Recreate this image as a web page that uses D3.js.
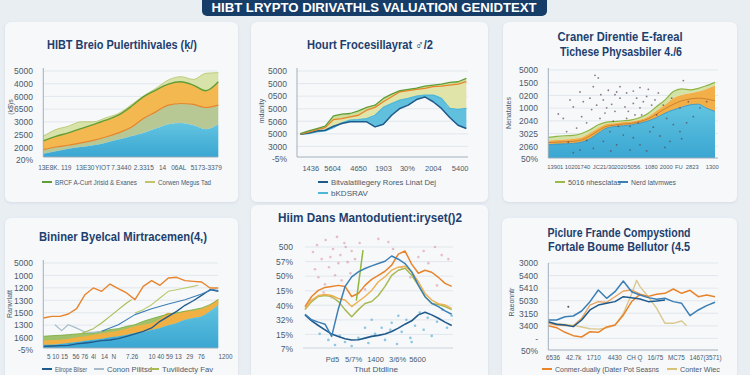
<!DOCTYPE html>
<html><head><meta charset="utf-8">
<script src="https://cdn.jsdelivr.net/npm/d3@7"></script>
<style>html,body{margin:0;padding:0;background:#e9eef3;}svg{display:block;font-family:"Liberation Sans",Arial,sans-serif;}</style>
</head><body><script>
// ---------------- DATA ----------------
const bannerTitle = "HIBT LRYPTO DIRIVATHLS VALUATION GENIDTEXT";

// Panel 1 (top-left) stacked areas, cumulative boundaries
const p1Title = ["HIBT Breio Pulertihivales (ķ/)"];
const p1YTicks = ["5000","4000","6000","6500","3000","2500","2000","20%"];
const p1XTicks = ["13E8K.","119","13E30","YIOT","7.3440","2.3315","14","06AL","5173-3379"];
const p1XTickAt = [0.4,1.8,3.3,4.7,6.2,8.0,9.5,10.8,13.0];
const p1Teal  = [3.8,6.5,9.6,11.5,13.5,16.5,20,23.8,27.7,32.7,37.7,39,36.5,32,37.7];
const p1Olive = [8.5,11.5,13.5,16.2,19.2,23,27.7,33.8,44.2,51.9,59.6,61.5,60.4,56.9,59.6];
const p1Amber = [18.5,23.8,27.7,32.7,37.3,42.3,48.1,57.7,69.2,76.9,83.8,86.5,82.7,76.2,86.5];
const p1Top   = [23.8,31.5,35.4,40.4,40.4,45,50,59.6,70,78.8,88.5,92.3,89.2,96.2,96.9];
const p1Legend = ["BRCF A-Curt Jrisid & Exanes","Corwen Megus Tad"];

// Panel 2 (top-middle)
const p2Title = ["Hourt Frocesillayrat ♂/2"];
const p2YTicks = ["5000","5000","0500","5000","5060","5000","3000","-5%"];
const p2XTicks = ["1436","5604","4650","1903","30%","2004","5400"];
const p2XTickAt = [1.2,3.84,6.96,9.96,12.84,15.96,19.2];
const p2Green  = [26.9,30,32.7,35.4,47.3,49.2,50,53,57,59.6,67.3,72.3,76.2,77.7,79.2,81.5,82.7,83.8,85.8,86.5,90.4];
const p2Orange = [26.2,28.5,31.5,33.8,43,44.2,46.2,48,53.8,57,63.5,69.2,75,76.2,77.7,78.8,80.8,81.5,82.7,83.8,86.5];
const p2Light  = [26.2,26.9,28.8,30,33.8,39.2,42.3,43,44.2,48,57,61.5,65.4,67.3,70,71.2,71.2,67.3,55.8,54.6,55.8];
const p2Navy   = [26.2,27.7,30,30.8,35.4,38.5,40.4,40.4,40.4,34.6,37.7,48,55.8,59.6,66,69,63.5,55.8,45.4,36.5,32.7];
const p2Legend = ["Bitvalatiliegery Rores Linat Dej","bKDSRAV"];

// Panel 3 (top-right)
const p3Title = ["Craner Direntie E-fareal","Tichese Physasbiler 4./6"];
const p3YTicks = ["5000","1500","0200","1000","2040","3025","2060","50%"];
const p3XTicks = ["1390","1 1020","1740","JC","21/30","2020","5056.","1080","2000","FU","2823","1300"];
const p3XTickAt = [0.6,2.4,4.2,5.7,7.0,8.6,10.3,12.3,14.1,15.6,17.2,19.6];
const p3Teal   = [15.1,15.8,16.2,16.6,18.1,21.9,28.3,34,35.8,36.6,37.7,39.6,42.3,46,50.9,54.7,57.7,60.4,61.1,56.6,52.8];
const p3Mid    = [17.5,18,18.5,19,20.5,25,31,36,37.5,38.5,39.5,41.5,44.5,50,56,61,65,67,68,67,65];
const p3Orange = [19.6,20.4,21.1,21.9,23.4,28.3,34,38.5,39.6,40.8,41.5,43.4,47.2,53.6,60.4,67.9,71.7,73.6,75.5,78.5,82.3];
const p3Top    = [23.4,24.5,25.3,25.7,27.9,32.1,37.7,40.8,41.5,42.3,43.4,46,50.9,58.5,66,75.5,78.5,77.4,79.2,82.3,86];
const p3Dots = [[5.6,94],[6,91],[5.4,81],[3.8,75],[8.2,75],[8.6,81],[12,78],[10.2,76],[16.2,88],[1.2,50],[3,58],[4.2,64],[5,68],[5.8,60],[6.6,66],[7,57],[7.6,61],[8,53],[8.6,68],[9.2,58],[9.6,53],[10.2,62],[10.6,68],[11,57],[11.4,64],[11.8,70],[12.4,60],[12.8,66],[11.2,49],[9.4,45],[7.8,42],[6.2,45],[4.6,40],[3.4,34],[2.2,30],[13,49],[14.2,45],[15,38],[15.8,30],[16.6,40],[17.4,47],[18.2,57],[19,64],[7.4,30],[9,26],[10.2,23],[11,15],[12.2,30],[13.4,25],[14.6,19],[8.2,15],[6.6,19],[5.4,11],[9.8,9],[11.8,8],[3.8,9],[3,6],[4.6,20],[8.4,36],[9.8,36],[10.4,49],[6.8,51],[5.2,55],[4,47],[15.8,57],[16.8,64],[13.8,60],[14.8,68],[8,72],[7.2,77],[9.4,74],[11,80],[13.2,74],[2.6,66],[1.8,45],[6.3,72],[10.8,40],[12.6,35],[14,12],[16,22],[7.5,8],[2.4,18]];
const p3Legend = ["5016 nhesclatas","Nerd latvmwes"];

// Panel 4 (bottom-left)
const p4Title = ["Bininer Byelcal Mirtracemen(4,)"];
const p4YTicks = ["5000","1000","1200","1300","1500","1300","1600","-5%"];
const p4XTicks = ["5 10 15","56 76","4l","14","N","7.26","10 40","59 13","29","76","1200"];
const p4XTickAt = [1.64,4.4,5.96,7.28,8.4,10.6,13.5,15.6,17.5,18.9,21.8];
const p4Teal   = [3.9,3.9,4.7,5.8,7,8.5,9.7,10.9,12.4,13.6,15.5,17.4,18.6,21.3,23.3,26.4,29.1,32.9,34.9,36.8,42.6,50.4];
const p4Amber  = [8.5,9.3,9.7,10.9,12.4,13.6,15.5,17,18.6,20.2,22.5,25.2,27.1,29.1,34.1,41,40,43.4,43.4,45.7,50.4,57.4];
const p4Green  = [13.6,14.3,14.7,15.5,16.3,17,17.4,19.4,21.3,22.5,25.2,27.1,31,34.1,36.8,39.5,41,42.6,44.6,46.5,50.4,56.2];
const p4Navy   = [1.9,2.3,2.7,3.1,4.7,5.8,7,8.5,9.3,10.9,13.6,16.3,19.4,23.3,31,36.8,42.6,49.6,55,61.2,67.8,66];
const p4Orange = [34.9,36.8,36.8,39.5,45.7,62,69.8,65.9,74.4,69,64,56.2,71.7,78.3,72.9,81.4,82.2,78.3,77.5,76.7,69.8,69.8];
const p4Olive  = [[4.2,15.5],[5,18.6],[6,22.5],[7,29.1],[8,36.8],[9,44.6],[10,52.3],[10.6,56.2]];
const p4Lime   = [[11,40.7],[12,44.6],[13,50.4],[14,58.1],[15,65.9],[16,67.8],[17,69.8],[18,71.7],[18.6,72.9]];
const p4Gray   = [[1.4,27.1],[2.2,20.2],[3,27.1],[3.8,24],[5,18.6],[6,18.2],[7,19.5]];
const p4Steel  = [[7,19.4],[9,27],[11,38.8],[13,45.7],[15,51.2],[17,56.2],[19,62.8],[20.3,68],[21,66.7]];
const p4Legend = ["Elirope Bilser","Conon Pilitsd","Tuvilidecty Fav"];

// Panel 5 (bottom-middle)
const p5Title = ["Hiim Dans Mantodutient:iryset()2"];
const p5YTicks = ["500","57%","50%","15%","40%","32%","15%","7%"];
const p5XTicks = ["Pd5","5/7%","1400","3/6%","5600"];
const p5XTickAt = [4.05,7.2,10.5,13.8,16.8];
const p5Orange = [41,51,57,60,61,62,61,51,54,62,68,72,76,82,93,96,83,74,77,75,70,64,61];
const p5Amber  = [39,47.5,52,53,52,49,47.5,41,46,51,57,65.6,70.5,77,80,81,75.4,65.6,54,47.5,44,42.6,39];
const p5Olive  = [38,46,51,52,51,46,38,31,38,44,46,52,61,72,77,79,72,62,51,44,43,41,38];
const p5Steel  = [33.4,27.9,25.6,23.6,11.5,38.7,60.7,70.5,75.4,78.7,81.3,83.6,85.9,91.1,87.9,83.6,75.4,62.3,50.8,44.3,41,36.7,33.4];
const p5Navy   = [32.8,26.9,22.3,18,13.8,11.5,9.2,7.9,8.2,9.8,11.5,12.5,13.8,16.4,19.7,23.6,26.9,32.8,35.4,32.8,29.5,25.6,22.3];
const p5Spike  = [[7.7,47],[8.7,97]];
const p5Pink = [[1.2,95],[1.8,102],[2.5,88],[3.1,107],[3.6,80],[4.2,98],[4.8,110],[5.3,92],[5.9,104],[6.4,85],[7.0,96],[2.0,70],[3.0,63],[4.5,72],[5.5,67],[6.8,74],[1.5,78],[3.8,90],[5.0,84],[6.1,100],[7.5,88],[12.5,105],[13.2,98],[17.0,90],[17.8,96],[18.5,84],[19.5,100],[20.5,92],[21.5,88],[11.0,108],[14.5,80],[9.0,58],[2.8,55],[4.0,50],[8.2,104],[15.8,70],[19.8,62]];
const p5Blue = [[3.5,8],[4.5,3],[5.2,12],[6.0,6],[7.0,2],[8.0,10],[9.5,5],[10.5,14],[11.5,20],[12.0,8],[13.0,25],[13.8,4],[14.5,16],[15.2,28],[15.8,10],[16.5,22],[17.2,35],[17.8,18],[18.4,30],[19.0,12],[19.8,26],[20.6,38],[21.3,20],[22,32],[10,28],[12.8,18],[16,6],[14,32],[2.2,14],[9,20]];
const p5XTitle = "Thut Dtdline";

// Panel 6 (bottom-right)
const p6Title = ["Piclure Frande Compystiond","Fortale Boume Bellutor (4.5"];
const p6YTicks = ["3000","5400","5410","5030","3150","3400","-","50%"];
const p6XTicks = ["6536","42.7k","1710","4430","CH Q","16/75","MC75","1467(3571)"];
const p6XTickAt = [0.5,3.0,5.4,7.9,10.3,12.8,15.3,18.8];
const p6Steel  = [35.3,35.3,39.2,40,45.9,56.9,70.6,60.8,68.6,81.2,68.6,64.7,61.6,59.6,60.8,56.9,54.9,40.4,47.1,52.2,56.1];
const p6Navy   = [33.3,30.2,29.4,27.5,35.3,47.1,52.9,54.9,56.9,62.7,61.6,60,56.9,57.6,58.8];
const p6Orange = [28.6,26.3,20.8,16.9,15.3,21.6,20.8,27.1,29.4,41,57,65.5,63.1,65.5,66.7,71.8,66.7,70.2,62.7,64.7,62.7];
const p6Peach  = [31.4,29.4,28.6,28.6,37.3,52.9,56.9,56.1,62.7,69.4,70.6,66];
const p6Tan    = [[0,32],[1,31],[2,30],[3,29],[4,27],[5,25],[6,24.5],[7,26],[8,29],[9,43],[10,66],[10.6,82],[11,74.5],[12,62.7],[13,49],[14,31.4],[15,31.4],[16,34.1],[16.6,28.6]];
const p6Stray  = [[2.4,51]];
const p6Legend = ["Conmer-dually (Dater Pot Seasns","Conter Wiec"];

// ---------------- DRAW ----------------
const svg = d3.select("body").append("svg").attr("width",750).attr("height",375);
const defs = svg.append("defs");
const f = defs.append("filter").attr("id","sh").attr("x","-10%").attr("y","-10%").attr("width","120%").attr("height","120%");
f.append("feDropShadow").attr("dx",0).attr("dy",1).attr("stdDeviation",1.6).attr("flood-color","#8a9bb0").attr("flood-opacity",0.22);
function grad(id,c1,c2){const g=defs.append("linearGradient").attr("id",id).attr("x1",0).attr("y1",0).attr("x2",0).attr("y2",1);
  g.append("stop").attr("offset","0%").attr("stop-color",c1);g.append("stop").attr("offset","100%").attr("stop-color",c2);}
grad("teal","#62c4e0","#3aa6d2");

const C = {navy:"#1f5a8c",steel:"#3c7fb5",light:"#4fb7d8",orange:"#e8842c",green:"#5f9e35",olive:"#a9ba52",lime:"#b9c96a",tan:"#d9c98e",gray:"#a7bccb",label:"#4a5b6d",title:"#1e3f6e"};

// banner
svg.append("rect").attr("x",202).attr("y",-10).attr("width",345).attr("height",26).attr("rx",5).attr("fill","#163d68");
svg.append("text").attr("x",374).attr("y",11.5).attr("text-anchor","middle").attr("font-size",12.5).attr("font-weight","bold")
  .attr("fill","#ffffff").attr("textLength",325).attr("lengthAdjust","spacingAndGlyphs").text(bannerTitle);

function card(x,y,w,h){svg.append("rect").attr("x",x).attr("y",y).attr("width",w).attr("height",h).attr("rx",6).attr("fill","#f6f8fa").attr("filter","url(#sh)");}
function txt(t,x,y,o){const e=svg.append("text").attr("x",x).attr("y",y).text(t)
  .attr("font-size",o.size||8).attr("fill",o.fill||C.label).attr("text-anchor",o.anchor||"start");
  if(o.bold)e.attr("font-weight","bold"); if(o.len)e.attr("textLength",o.len).attr("lengthAdjust","spacingAndGlyphs");
  if(o.rot)e.attr("transform",`rotate(-90,${x},${y})`); return e;}

function panel(c){
  const x=d3.scaleLinear().domain(c.xd).range([c.l,c.r]);
  const y=d3.scaleLinear().domain([0,100]).range([c.b,c.t]);
  const yl=d3.scalePoint().domain(d3.range(c.yTicks.length)).range([c.yTop,c.yBot]);
  const grid=svg.append("g");
  d3.range(c.yTicks.length-1).forEach(i=>{
    if(Math.abs(yl(i)-c.b)<3) return;
    grid.append("line").attr("x1",c.l).attr("x2",c.gr).attr("y1",yl(i)).attr("y2",yl(i)).attr("stroke","#dde3ea").attr("stroke-width",0.8);});
  const ay=svg.append("g").attr("transform",`translate(${c.ylx},0)`)
    .call(d3.axisLeft(yl).tickSize(0).tickPadding(0).tickFormat(i=>c.yTicks[i]));
  ay.select(".domain").remove();
  ay.selectAll("text").attr("font-size",8.5).attr("fill",C.label).attr("font-family","Liberation Sans, Arial, sans-serif");
  const ax=svg.append("g").attr("transform",`translate(0,${c.xly})`)
    .call(d3.axisBottom(x).tickValues(c.xAt).tickSize(0).tickPadding(0).tickFormat((d,i)=>c.xTicks[i]));
  ax.select(".domain").remove();
  ax.selectAll("text").attr("font-size",c.xfs||7.5).attr("fill",C.label).attr("font-family","Liberation Sans, Arial, sans-serif");
  const g=svg.append("g");
  return {x,y,g,c};
}
function axesLines(P){const c=P.c;
  svg.append("line").attr("x1",c.l).attr("x2",c.l).attr("y1",c.t-2).attr("y2",c.b).attr("stroke","#9aa7b4").attr("stroke-width",0.9);
  svg.append("line").attr("x1",c.l).attr("x2",c.gr).attr("y1",c.b).attr("y2",c.b).attr("stroke","#9aa7b4").attr("stroke-width",0.9);}
function areaBetween(P,lo,hi,fill,op,curve){
  const a=d3.area().x((d,i)=>P.x(i)).y0((d,i)=>P.y(lo?lo[i]:0)).y1(d=>P.y(d)).curve(curve||d3.curveMonotoneX);
  P.g.append("path").attr("d",a(hi)).attr("fill",fill).attr("opacity",op==null?1:op);}
function lineArr(P,arr,col,w,curve){
  const l=d3.line().x((d,i)=>P.x(i)).y(d=>P.y(d)).curve(curve||d3.curveLinear);
  P.g.append("path").attr("d",l(arr)).attr("fill","none").attr("stroke",col).attr("stroke-width",w).attr("stroke-linejoin","round");}
function linePairs(P,arr,col,w){
  const l=d3.line().x(d=>P.x(d[0])).y(d=>P.y(d[1]));
  P.g.append("path").attr("d",l(arr)).attr("fill","none").attr("stroke",col).attr("stroke-width",w).attr("stroke-linejoin","round");}
function dots(P,arr,col,r){P.g.selectAll(null).data(arr).enter().append("circle")
  .attr("cx",d=>P.x(d[0])).attr("cy",d=>P.y(d[1])).attr("r",r).attr("fill",col);}
function legend(items,size){items.forEach(it=>{
  svg.append("line").attr("x1",it.x).attr("x2",it.x+10).attr("y1",it.y).attr("y2",it.y).attr("stroke",it.col).attr("stroke-width",2);
  txt(it.t,it.x+13,it.y+2.5,{size:size||7.5,len:it.len});});}

// cards
card(5,22,233,180); card(251,22,237,180); card(503,22,234,180);
card(5,218,233,170); card(251,205,237,180); card(502,218,235,170);

// ---- Panel 1 ----
txt(p1Title[0],122,49,{size:13,bold:true,fill:C.title,anchor:"middle",len:150});
const P1=panel({xd:[0,14],l:43.3,r:218.3,gr:218,t:70,b:157,yTicks:p1YTicks,yTop:71,yBot:160,ylx:33,xTicks:p1XTicks,xAt:p1XTickAt,xly:165,xfs:6.5});
areaBetween(P1,p1Amber,p1Top,"#d8e3aa");
areaBetween(P1,p1Olive,p1Amber,"#f3b84f");
areaBetween(P1,p1Teal,p1Olive,"#b7c895");
areaBetween(P1,null,p1Teal,"url(#teal)");
lineArr(P1,p1Top,"#b9c772",0.9,d3.curveMonotoneX);
lineArr(P1,p1Amber,C.green,1.4,d3.curveMonotoneX);
lineArr(P1,p1Olive,C.orange,1.2,d3.curveMonotoneX);
axesLines(P1);
txt("(k$)s",13,107,{size:7,anchor:"middle",rot:true});
legend([{x:42,y:182,col:C.green,t:p1Legend[0],len:82},{x:145,y:182,col:"#c2c46a",t:p1Legend[1],len:53}]);

// ---- Panel 2 ----
txt(p2Title[0],370,49,{size:13,bold:true,fill:C.title,anchor:"middle",len:126});
const P2=panel({xd:[-0.4,20.2],l:297,r:468,gr:468,t:70,b:157,yTicks:p2YTicks,yTop:71,yBot:159,ylx:287,xTicks:p2XTicks,xAt:p2XTickAt,xly:166});
areaBetween(P2,p2Light,p2Orange,"#dfe3a4",0.95);
areaBetween(P2,p2Orange,p2Green,"#cbd98c",0.9);
areaBetween(P2,p2Navy,p2Light,"#58bddb",0.95);
lineArr(P2,p2Light,C.light,1.3);
lineArr(P2,p2Navy,C.navy,1.5);
lineArr(P2,p2Orange,C.orange,1.3);
lineArr(P2,p2Green,C.green,1.3);
axesLines(P2);
txt("mdanity",264,111,{size:7,anchor:"middle",rot:true});
legend([{x:318,y:182,col:C.navy,t:p2Legend[0],len:105},{x:318,y:193,col:C.light,t:p2Legend[1],len:37}]);

// ---- Panel 3 ----
txt(p3Title[0],620,41,{size:13,bold:true,fill:C.title,anchor:"middle",len:125});
txt(p3Title[1],621,56,{size:13,bold:true,fill:C.title,anchor:"middle",len:122});
const P3=panel({xd:[0,20],l:548.3,r:715,gr:718,t:70,b:158,yTicks:p3YTicks,yTop:70,yBot:159,ylx:538,xTicks:p3XTicks,xAt:p3XTickAt,xly:165,xfs:5.8});
areaBetween(P3,p3Orange,p3Top,"#d3e2a6");
areaBetween(P3,p3Teal,p3Orange,"#f2ae47");
areaBetween(P3,null,p3Teal,"url(#teal)");
lineArr(P3,p3Top,"#8fb545",1.2,d3.curveMonotoneX);
lineArr(P3,p3Mid,"#c97a2c",0.9,d3.curveMonotoneX);
lineArr(P3,p3Teal,"#2f8fbf",0.8,d3.curveMonotoneX);
dots(P3,p3Dots,"rgba(92,70,86,0.7)",0.9);
axesLines(P3);
txt("Nenatates",511,113,{size:7,anchor:"middle",rot:true});
legend([{x:555,y:182,col:"#9cbb4a",t:p3Legend[0],len:53},{x:618,y:182,col:C.steel,t:p3Legend[1],len:45}]);

// ---- Panel 4 ----
txt(p4Title[0],123,241,{size:13,bold:true,fill:C.title,anchor:"middle",len:168});
const P4=panel({xd:[0,21],l:43.3,r:218.3,gr:218,t:262,b:348,yTicks:p4YTicks,yTop:263,yBot:350,ylx:33,xTicks:p4XTicks,xAt:p4XTickAt,xly:355,xfs:6.3});
areaBetween(P4,p4Teal,p4Green,"#9fc16a");
areaBetween(P4,p4Teal,p4Amber,"#f1b043");
areaBetween(P4,null,p4Teal,"url(#teal)");
lineArr(P4,p4Green,"#7fae45",0.9);
lineArr(P4,p4Navy,C.navy,1.3);
linePairs(P4,p4Gray,C.gray,1.2);
linePairs(P4,p4Steel,C.steel,1.1);
linePairs(P4,p4Olive,C.olive,1.1);
linePairs(P4,p4Lime,C.lime,1.1);
lineArr(P4,p4Orange,C.orange,1.4);
axesLines(P4);
txt("Ranvrlatt",12,304,{size:7,anchor:"middle",rot:true});
legend([{x:42,y:369,col:C.navy,t:p4Legend[0],len:32},{x:94,y:369,col:C.gray,t:p4Legend[1],len:45},{x:149,y:369,col:C.olive,t:p4Legend[2],len:51}],7);

// ---- Panel 5 ----
txt(p5Title[0],370,222,{size:13,bold:true,fill:C.title,anchor:"middle",len:184});
const P5=panel({xd:[0,22],l:305,r:451.7,gr:453,t:247,b:348,yTicks:p5YTicks,yTop:247,yBot:349,ylx:293,xTicks:p5XTicks,xAt:p5XTickAt,xly:357});
dots(P5,p5Pink,"rgba(212,120,140,0.45)",1.3);
dots(P5,p5Blue,"rgba(70,165,210,0.6)",1.3);
lineArr(P5,p5Olive,C.olive,1.5);
lineArr(P5,p5Amber,"#efb04e",1.4);
lineArr(P5,p5Orange,C.orange,1.5);
linePairs(P5,p5Spike,"#8fb83d",1.5);
lineArr(P5,p5Navy,C.navy,1.6);
lineArr(P5,p5Steel,C.steel,1.5);
svg.append("line").attr("x1",303).attr("x2",453).attr("y1",348).attr("y2",348).attr("stroke","#c3ccd5").attr("stroke-width",0.8);
txt(p5XTitle,376,372,{size:7,anchor:"middle",len:44});

// ---- Panel 6 ----
txt(p6Title[0],619,237,{size:13,bold:true,fill:C.title,anchor:"middle",len:143});
txt(p6Title[1],619,251,{size:13,bold:true,fill:C.title,anchor:"middle",len:142});
const P6=panel({xd:[0,20],l:548.3,r:715,gr:718,t:265,b:350,yTicks:p6YTicks,yTop:263,yBot:351,ylx:538,xTicks:p6XTicks,xAt:p6XTickAt,xly:356,xfs:6.3});
linePairs(P6,p6Tan,C.tan,1.4);
lineArr(P6,p6Peach,"#e9a25a",1.3);
lineArr(P6,p6Orange,C.orange,1.5);
lineArr(P6,p6Navy,C.navy,1.5);
lineArr(P6,p6Steel,C.steel,1.5);
dots(P6,p6Stray,"#555",1);
axesLines(P6);
txt("Raeonntr",514,302,{size:7,anchor:"middle",rot:true});
legend([{x:542,y:369,col:C.orange,t:p6Legend[0],len:104},{x:667,y:369,col:"#d8c27a",t:p6Legend[1],len:40}],7);
</script></body></html>
